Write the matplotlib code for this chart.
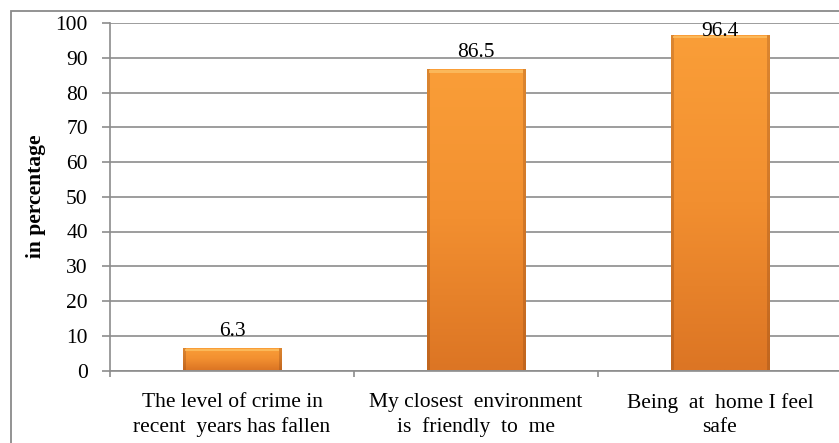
import numpy as np
import matplotlib
matplotlib.use('Agg')
import matplotlib.pyplot as plt
from matplotlib.patches import Rectangle
from matplotlib.colors import LinearSegmentedColormap

# survey answers, share of respondents agreeing
categories = ['The level of crime in\nrecent  years has fallen',
              'My closest  environment\nis  friendly  to  me',
              'Being  at  home I feel\nsafe']
values = [6.3, 86.5, 96.4]
yticks = [0, 10, 20, 30, 40, 50, 60, 70, 80, 90, 100]

plt.rcParams['font.family'] = ['Liberation Serif', 'DejaVu Serif']
GRID = '#8c8c8c'
FS = 15.5
YMAX = 100

fig = plt.figure(figsize=(8.39, 4.43), dpi=100)
# chart frame (runs off the right and bottom edges)
fig.patches.append(Rectangle((11 / 839, -0.2), 1.2, 1 - 11 / 443 + 0.2,
                             transform=fig.transFigure, fill=False,
                             ec='#8a8a8a', lw=1.3))

ax = fig.add_axes([110 / 839, 72.5 / 443, 732 / 839, 347.5 / 443])
ax.set_xlim(0, 3)
ax.set_ylim(0, YMAX)
ax.set_yticks(yticks)
ax.grid(axis='y', color=GRID, lw=1.2)
ax.set_axisbelow(True)
for s in ('top', 'right'):
    ax.spines[s].set_visible(False)
for s in ('left', 'bottom'):
    ax.spines[s].set_color(GRID)
    ax.spines[s].set_linewidth(1.2)
ax.tick_params(axis='y', length=6, width=1.2, color=GRID, labelsize=FS, pad=10)
ax.set_xticks([0, 1, 2, 3])
ax.set_xticklabels([])
ax.tick_params(axis='x', length=4, width=1.2, color=GRID)
ax.set_xticks([0.5, 1.5, 2.5], minor=True)
ax.set_xticklabels(categories, minor=True, fontsize=FS, linespacing=1.35)
ax.tick_params(axis='x', which='minor', length=0, pad=16)

ax.set_ylabel('in percentage', fontsize=FS, fontweight='bold', labelpad=7)

cmap = LinearSegmentedColormap.from_list('bar', ['#dc7524', '#f28f30', '#fa9e38'])
grad = np.linspace(0, 1, 256).reshape(-1, 1)
edge = LinearSegmentedColormap.from_list('edge', ['#b05c1c', '#c8762c'])
w = 0.405
for i, v in enumerate(values):
    x0, x1 = i + 0.5 - w / 2, i + 0.5 + w / 2
    ax.imshow(grad, cmap=cmap, aspect='auto', origin='lower',
              extent=(x0, x1, 0, v), zorder=2)
    # darker side bevels and a light top bevel
    ax.imshow(grad, cmap=edge, aspect='auto', origin='lower', alpha=0.6,
              extent=(x0, x0 + 0.01, 0, v), zorder=3)
    ax.imshow(grad, cmap=edge, aspect='auto', origin='lower', alpha=0.6,
              extent=(x1 - 0.01, x1, 0, v), zorder=3)
    ax.add_patch(Rectangle((x0 + 0.01, v - 0.8), x1 - x0 - 0.02, 0.8,
                           fc='#fcc063', ec='none', alpha=0.8, zorder=3))
    # value label above the bar, pushed down so it stays inside the plot
    ty = min(v + 3.7, YMAX - 3.6)
    ax.text(i + 0.5, ty, f'{v}', ha='center', va='baseline', fontsize=FS,
            zorder=4)

ax.set_xlim(0, 3)
ax.set_ylim(0, YMAX)
fig.savefig('out.png', dpi=100)
